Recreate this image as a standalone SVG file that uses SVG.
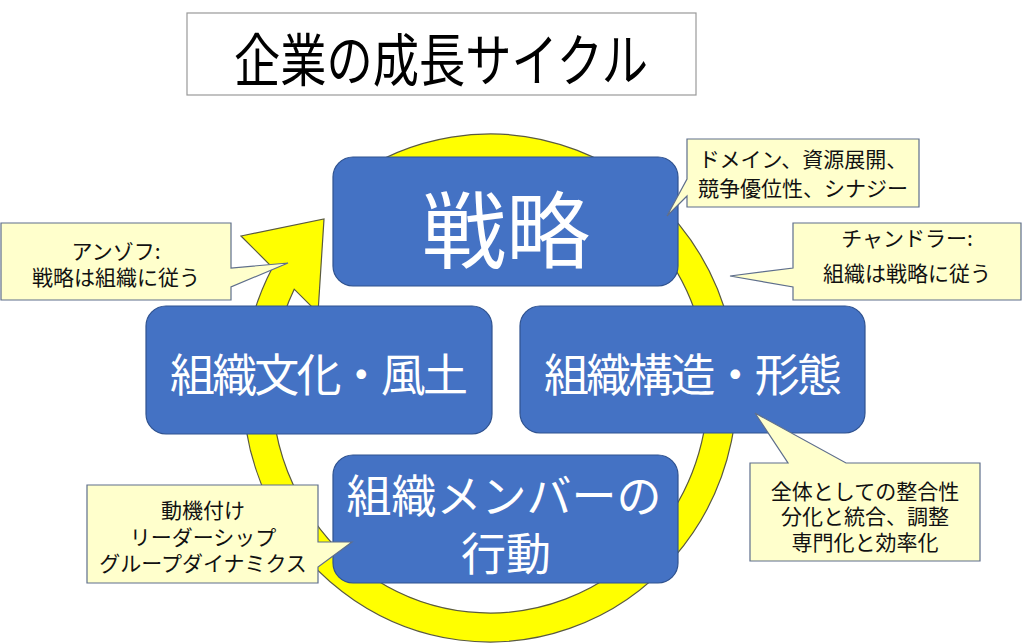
<svg xmlns="http://www.w3.org/2000/svg" width="1024" height="643" viewBox="0 0 1024 643">
<style>
text{font-family:"Noto Sans CJK JP","Noto Sans",sans-serif;text-anchor:middle}
.box{fill:#4472C4;stroke:#2F528F;stroke-width:1.2}
.bt{fill:#FFFFFF;font-size:45px}
.co{fill:#FFFFCC;stroke:#5E6E8C;stroke-width:1.2}
.ct{fill:#111111;font-size:21px}
</style>
<rect width="1024" height="643" fill="#FFFFFF"/>
<g id="title">
<rect x="187" y="13" width="509" height="82" fill="#FFFFFF" stroke="#999999" stroke-width="1.2"/>
<text x="441" y="81" font-size="57" textLength="414" lengthAdjust="spacingAndGlyphs" fill="#000000">企業の成長サイクル</text>
</g>
<g id="connectors">
<path d="M 348.3 179.9 A 247 254 0 1 1 272.5 267.5 L 241 236 L 324 219 L 318 313 L 294.2 289.2 A 218 225 0 1 0 365 203.7 Z" fill="#FFFF00" stroke="#5A5A40" stroke-width="1.2"/>
</g>
<g id="node-strategy">
<rect class="box" x="333" y="157" width="345" height="129" rx="20"/>
<text x="506" y="262" font-size="84" fill="#FFFFFF">戦略</text>
</g>
<g id="node-culture">
<rect class="box" x="146" y="306" width="346" height="128" rx="20"/>
<text class="bt" x="319" y="392" textLength="298" lengthAdjust="spacing">組織文化・風土</text>
</g>
<g id="node-structure">
<rect class="box" x="520" y="306" width="345" height="127" rx="20"/>
<text class="bt" x="693" y="392" textLength="298" lengthAdjust="spacing">組織構造・形態</text>
</g>
<g id="node-members">
<rect class="box" x="333" y="455" width="345" height="128" rx="20"/>
<text class="bt" x="504" y="513" font-size="44">組織メンバーの</text>
<text class="bt" x="506" y="571" font-size="44">行動</text>
</g>
<g id="callout-ansoff">
<path class="co" d="M1,223 H231 V268 L288,263 L231,287 V300 H1 Z"/>
<text class="ct" x="116" y="259" font-size="22">アンゾフ:</text>
<text class="ct" x="116" y="285" font-size="22">戦略は組織に従う</text>
</g>
<g id="callout-strategy">
<path class="co" d="M687,139 H919 V207 H687 V196 L667,216 L687,179 Z"/>
<text class="ct" x="803" y="167">ドメイン、資源展開、</text>
<text class="ct" x="803" y="196">競争優位性、シナジー</text>
</g>
<g id="callout-chandler">
<path class="co" d="M793,223 H1021 V300 H793 V287 L730,276 L793,268 Z"/>
<text class="ct" x="907" y="246" font-size="22">チャンドラー:</text>
<text class="ct" x="907" y="281" font-size="22">組織は戦略に従う</text>
</g>
<g id="callout-members">
<path class="co" d="M87,485 H318 V542 L352,542 L318,567 V583 H87 Z"/>
<text class="ct" x="203" y="518">動機付け</text>
<text class="ct" x="203" y="545">リーダーシップ</text>
<text class="ct" x="203" y="571">グループダイナミクス</text>
</g>
<g id="callout-structure">
<path class="co" d="M750,463 H788 L755,413 L846,463 H980 V561 H750 Z"/>
<text class="ct" x="865" y="499">全体としての整合性</text>
<text class="ct" x="865" y="524">分化と統合、調整</text>
<text class="ct" x="865" y="550">専門化と効率化</text>
</g>
</svg>
